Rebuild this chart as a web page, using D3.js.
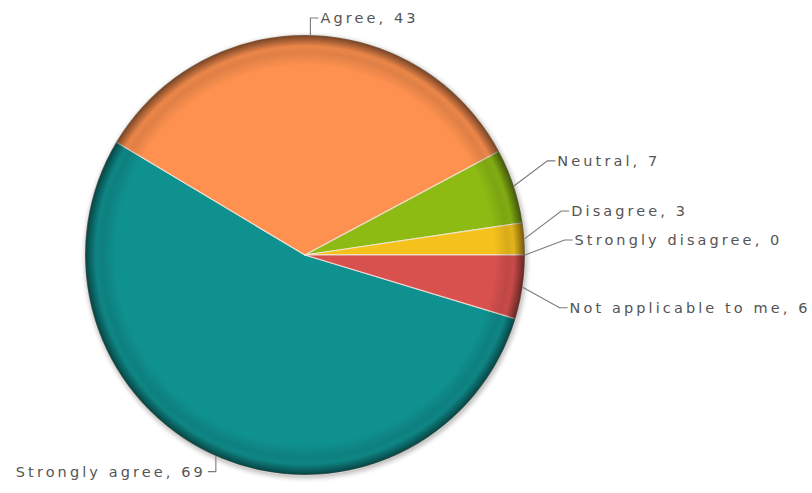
<!DOCTYPE html>
<meta charset="utf-8">
<style>
  body { margin: 0; background: #fff; }
  svg { font-family: "DejaVu Sans", Verdana, sans-serif; }
  .lbl { font-size: 14.5px; fill: #555; letter-spacing: 3.1px; }
</style>
<svg width="812" height="493"></svg>
<script src="https://d3js.org/d3.v7.min.js"></script>
<script>
var categories = ["Strongly agree", "Agree", "Neutral", "Disagree", "Strongly disagree", "Not applicable to me"];
var values = [69, 43, 7, 3, 0, 6];
var colors = ["#0f9190", "#fe914f", "#8dbb14", "#f5c21c", "#4a7fd0", "#d9514f"];

var svg = d3.select("svg"),
    cx = 305, cy = 255, r = 220;

var total = d3.sum(values);
// last slice starts at 3 o'clock, so the first one starts just after it
var offset = Math.PI / 2 + 2 * Math.PI * values[values.length - 1] / total;

var pie = d3.pie().sort(null).value(function(d) { return d; })
    .startAngle(offset).endAngle(offset + 2 * Math.PI);
var arc = d3.arc().innerRadius(0).outerRadius(r);
var arcs = pie(values);

var defs = svg.append("defs");
var blur = defs.append("filter").attr("id", "sh").attr("x", "-10%").attr("y", "-10%").attr("width", "120%").attr("height", "120%");
blur.append("feGaussianBlur").attr("stdDeviation", 2.5);

var bevel = defs.append("radialGradient").attr("id", "bevel")
    .attr("gradientUnits", "userSpaceOnUse")
    .attr("cx", 0).attr("cy", 0).attr("r", r);
[[0, 0], [0.86, 0], [0.92, 0.12], [0.95, 0.08], [0.98, 0.36], [1, 0.55]].forEach(function(s) {
  bevel.append("stop").attr("offset", s[0]).attr("stop-color", "#000").attr("stop-opacity", s[1]);
});

var g = svg.append("g").attr("transform", "translate(" + cx + "," + cy + ")");

// soft shadow under the pie
g.append("circle").attr("cx", 1).attr("cy", 2).attr("r", r + 1)
  .attr("fill", "#000").attr("opacity", 0.28).attr("filter", "url(#sh)");

g.selectAll("path.slice")
  .data(arcs)
  .enter().append("path")
  .attr("class", "slice")
  .attr("d", arc)
  .attr("fill", function(d, i) { return colors[i]; })
  .attr("stroke", "#f2e6dc")
  .attr("stroke-opacity", 0.85)
  .attr("stroke-width", 1.2)
  .attr("stroke-linejoin", "round");

g.append("circle").attr("r", r).attr("fill", "url(#bevel)").attr("pointer-events", "none");

// labels
var gap = 29, R2 = 260;
var labels = arcs.map(function(d, i) {
  var a = (d.startAngle + d.endAngle) / 2;
  var s = Math.sin(a), c = Math.cos(a);
  return {
    text: categories[i] + ", " + values[i],
    a: a, s: s, c: c,
    ax: r * s, ay: -r * c,
    vertical: Math.abs(s) < 0.5,
    upper: c >= -1e-6,
    right: s >= 0
  };
});

labels.forEach(function(l) {
  if (l.vertical) {
    l.y = -(r + 17) * l.c;
  } else if (l.upper) {
    l.y = Math.min(-(r + 80) * l.c, -15);
  } else {
    l.y = Math.max(-(r + 140) * l.c, 15);
  }
});

// push side labels apart
[true, false].forEach(function(right) {
  var up = labels.filter(function(l) { return !l.vertical && l.right === right && l.upper; })
    .sort(function(a, b) { return b.y - a.y; });
  for (var k = 1; k < up.length; k++) up[k].y = Math.min(up[k].y, up[k - 1].y - gap);
  var lo = labels.filter(function(l) { return !l.vertical && l.right === right && !l.upper; })
    .sort(function(a, b) { return a.y - b.y; });
  for (var k = 1; k < lo.length; k++) lo[k].y = Math.max(lo[k].y, lo[k - 1].y + gap);
});

labels.forEach(function(l) {
  var dir = l.right ? 1 : -1, ex, ey = l.y, hx;
  if (l.vertical) {
    ex = l.ax;
    hx = ex + dir * 8;
  } else {
    ex = dir * Math.sqrt(Math.max(0, R2 * R2 - ey * ey));
    hx = ex + dir * 8;
  }
  g.append("polyline")
    .attr("points", [[l.ax, l.ay], [ex, ey], [hx, ey]].map(function(p) { return p.join(","); }).join(" "))
    .attr("fill", "none")
    .attr("stroke", "#7a7a7a")
    .attr("stroke-width", 1.1);
  g.append("text")
    .attr("class", "lbl")
    .attr("x", hx + dir * 2)
    .attr("y", ey)
    .attr("dy", "0.36em")
    .attr("text-anchor", l.right ? "start" : "end")
    .text(l.text);
});
</script>
